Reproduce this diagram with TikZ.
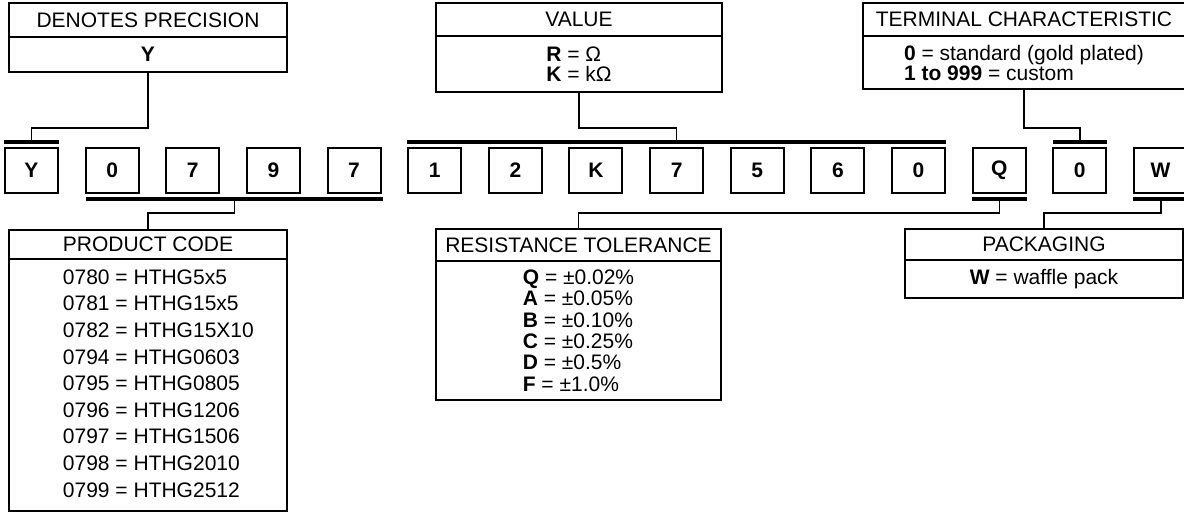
\documentclass[tikz,border=0pt]{standalone}
\usepackage{fontspec}
\setmainfont{Liberation Sans}
\begin{document}
\begin{tikzpicture}[x=1pt,y=-1pt,
  font=\fontsize{21}{21}\selectfont,
  box/.style={draw, line width=2pt, inner sep=0pt, outer sep=0pt, align=center},
  cbox/.style={draw, line width=2pt, inner sep=0pt, minimum width=53pt, minimum height=45pt, font=\fontsize{21}{21}\selectfont\bfseries},
  bar/.style={fill=black, inner sep=0pt, outer sep=0pt, minimum height=3.4pt},
  conn/.style={line width=1.7pt}]
\useasboundingbox (0,0) rectangle (1184,512);

% top boxes
\node[box, minimum width=278pt, minimum height=34pt] (dpT) at (148,20) {DENOTES PRECISION};
\node[box, minimum width=278pt, minimum height=35pt, font=\fontsize{21}{21}\selectfont\bfseries] (dpB) at (148,54.5) {Y};

\node[box, minimum width=286pt, minimum height=33pt] (vT) at (579,19.5) {VALUE};
\node[box, minimum width=286pt, minimum height=56pt, align=left, font=\fontsize{21}{20}\selectfont] (vB) at (579,64) {\textbf{R} = Ω\\\textbf{K} = kΩ};

\node[box, minimum width=322pt, minimum height=33pt] (tT) at (1024,19.5) {TERMINAL CHARACTERISTIC};
\node[box, minimum width=322pt, minimum height=53pt, align=left, font=\fontsize{21}{20}\selectfont] (tB) at (1024,62.5) {\textbf{0} = standard (gold plated)\\\textbf{1 to 999} = custom};

% character boxes
\foreach \c [count=\i from 0] in {Y,0,7,9,7,1,2,K,7,5,6,0,Q,0,W} {
  \node[cbox] (c\i) at ({31.5+80.64*\i},170.5) {\c};
}

% bars
\node[bar, minimum width=55pt]  (barY) at (31.5,142) {};
\node[bar, minimum width=539pt] (barV) at (676.5,142) {};
\node[bar, minimum width=54pt]  (barT) at (1080,142) {};
\node[bar, minimum width=297pt] (barP) at (234.5,199) {};
\node[bar, minimum width=55pt]  (barQ) at (999.5,199) {};
\node[bar, minimum width=56pt]  (barW) at (1161,199) {};

% bottom boxes
\node[box, minimum width=278pt, minimum height=29pt] (pT) at (148,244.5) {PRODUCT CODE};
\node[box, minimum width=278pt, minimum height=252pt] (pB) at (148,385) {};
\node[inner sep=0pt, align=left, font=\fontsize{21}{26.6}\selectfont] (pBtext) at (158.4,383.5) {0780 = HTHG5x5\\0781 = HTHG15x5\\0782 = HTHG15X10\\0794 = HTHG0603\\0795 = HTHG0805\\0796 = HTHG1206\\0797 = HTHG1506\\0798 = HTHG2010\\0799 = HTHG2512};

\node[box, minimum width=285pt, minimum height=32pt] (rT) at (578.5,245) {RESISTANCE TOLERANCE};
\node[box, minimum width=285pt, minimum height=139pt, align=left, font=\fontsize{21}{21.4}\selectfont] (rB) at (578.5,330.5) {\textbf{Q} = ±0.02\%\\\textbf{A} = ±0.05\%\\\textbf{B} = ±0.10\%\\\textbf{C} = ±0.25\%\\\textbf{D} = ±0.5\%\\\textbf{F} = ±1.0\%};

\node[box, minimum width=278pt, minimum height=31pt] (kT) at (1044,244.5) {PACKAGING};
\node[box, minimum width=278pt, minimum height=38pt] (kB) at (1044,279) {\textbf{W} = waffle pack};

% connectors
\draw[conn] (dpB.south) -- (dpB.south |- 0,128) -| (barY.north);
\draw[conn] (vB.south) -- (vB.south |- 0,128) -| (barV.north);
\draw[conn] (tB.south) -- (tB.south |- 0,128) -| (barT.north);
\draw[conn] (barP.south) -- (barP.south |- 0,213) -| (pT.north);
\draw[conn] (barQ.south) -- (barQ.south |- 0,213) -| (rT.north);
\draw[conn] (barW.south) -- (barW.south |- 0,213) -| (kT.north);
\end{tikzpicture}
\end{document}
